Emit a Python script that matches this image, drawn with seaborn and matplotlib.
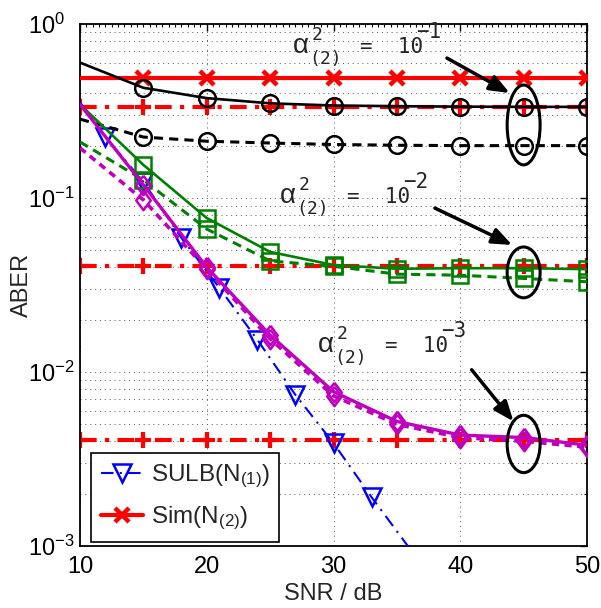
import numpy as np
import pandas as pd
import matplotlib
matplotlib.use("Agg")
import matplotlib.pyplot as plt
import seaborn as sns
from matplotlib.patches import Ellipse
from matplotlib.lines import Line2D
from matplotlib.ticker import LogLocator, MultipleLocator

# ---------------- data ----------------
snr = [10, 15, 20, 25, 30, 35, 40, 45, 50]
sim_n2 = [0.488, 0.488, 0.488, 0.488, 0.488, 0.488, 0.488, 0.488, 0.488]
lim_a1 = [0.333, 0.333, 0.333, 0.333, 0.333, 0.333, 0.333, 0.333, 0.333]
lim_a2 = [0.0405, 0.0405, 0.0405, 0.0405, 0.0405, 0.0405, 0.0405, 0.0405, 0.0405]
lim_a3 = [0.00405, 0.00405, 0.00405, 0.00405, 0.00405, 0.00405, 0.00405, 0.00405, 0.00405]
black_solid = [0.60, 0.43, 0.375, 0.35, 0.34, 0.337, 0.335, 0.334, 0.334]
black_dashed = [0.284, 0.224, 0.212, 0.207, 0.203, 0.201, 0.200, 0.200, 0.200]
green_solid = [0.345, 0.155, 0.0767, 0.049, 0.0412, 0.0392, 0.0395, 0.0395, 0.039]
green_dashed = [0.21, 0.127, 0.0663, 0.0435, 0.0405, 0.0365, 0.036, 0.0345, 0.033]
purple_solid = [0.345, 0.119, 0.040, 0.0163, 0.0077, 0.0052, 0.00434, 0.0042, 0.0038]
purple_dashed = [0.194, 0.0975, 0.039, 0.0155, 0.0073, 0.005, 0.0042, 0.0040, 0.0037]
snr_sulb = [10, 12, 15, 18, 21, 24, 27, 30, 33, 36]
sulb_n1 = [0.355, 0.224, 0.124, 0.059, 0.0304, 0.0153, 0.00738, 0.0039, 0.00191, 0.00097]

legend_labels = [r"SULB(N$_{(1)}$)", r"Sim(N$_{(2)}$)"]
alpha_exponents = ["\u22121", "\u22122", "\u22123"]
ellipse_x = [45, 45, 45]
ellipse_lo = [0.155, 0.0267, 0.00264]
ellipse_hi = [0.446, 0.0523, 0.00564]

# ---------------- style ----------------
sns.set_theme(style="white")
plt.rcParams["font.family"] = ["Liberation Sans", "DejaVu Sans"]
plt.rcParams["mathtext.fontset"] = "custom"
plt.rcParams["mathtext.rm"] = "Liberation Sans"
plt.rcParams["mathtext.it"] = "Liberation Sans:italic"

fig = plt.figure(figsize=(6.01, 6.08), dpi=100)
ax = fig.add_axes([80 / 601, 1 - 546 / 608, 507 / 601, 522 / 608])

diamond = [(0, 1), (0.75, 0), (0, -1), (-0.75, 0), (0, 1)]


def draw(x, y, color, ls, lw, marker=None, ms=10, mew=1.8, me=None, z=2):
    sns.lineplot(x=x, y=y, ax=ax, color=color, linestyle=ls, linewidth=lw,
                 marker=marker, markersize=ms, markeredgewidth=mew,
                 markerfacecolor="none", markeredgecolor=color, markevery=me,
                 legend=False, zorder=z, estimator=None, sort=False)


red = "#ff0000"
green = "#008000"
purple = "#bf00bf"
blue = "#0000ff"
dashdot_blue = (0, (6, 3, 1, 3))

draw(snr_sulb, sulb_n1, blue, dashdot_blue, 1.5, marker="v", ms=13, mew=1.8,
     me=slice(1, 9), z=3)
draw(snr, sim_n2, red, "-", 3.0, marker="x", ms=10, mew=3.2, me=slice(1, None), z=3)
for lim in (lim_a1, lim_a2, lim_a3):
    draw(snr, lim, red, (0, (4, 2, 1, 2)), 3.0, marker="+", ms=12, mew=3.0, z=2)
draw(snr, black_solid, "black", "-", 1.9, marker="o", ms=12, me=slice(1, None), z=4)
draw(snr, black_dashed, "black", (0, (3, 2)), 2.2, marker="o", ms=12, me=slice(1, None), z=4)
draw(snr, green_solid, green, "-", 1.9, marker="s", ms=11, me=slice(1, None), z=4)
draw(snr, green_dashed, green, (0, (3, 2)), 2.2, marker="s", ms=11, me=slice(1, None), z=4)
draw(snr, purple_dashed, purple, (0, (2, 1.5)), 2.6, marker=diamond, ms=14, me=slice(1, None), z=4)
draw(snr, purple_solid, purple, "-", 2.4, marker=diamond, ms=14, me=slice(1, None), z=5)

ax.set_yscale("log")
ax.set_xlim(10, 50)
ax.set_ylim(1e-3, 1)

# ticks
PX = 72 / 100  # points per pixel
ax.xaxis.set_major_locator(MultipleLocator(10))
ax.xaxis.set_minor_locator(MultipleLocator(0.5))
ax.yaxis.set_major_locator(LogLocator(base=10, numticks=10))
ax.yaxis.set_minor_locator(LogLocator(base=10, subs=np.arange(2, 10), numticks=20))
ax.tick_params(which="both", direction="in", top=True, right=True, colors="black",
               labelsize=17)
ax.tick_params(axis="y", which="major", pad=52 * PX)
ax.tick_params(axis="x", which="major", pad=7)
ax.tick_params(which="major", length=5, width=1)
ax.tick_params(which="minor", length=2.5, width=0.8)
ax.tick_params(axis="x", which="minor", length=2)
for lab in ax.get_yticklabels():
    lab.set_horizontalalignment("left")
for s in ax.spines.values():
    s.set_color("black")
    s.set_linewidth(1.3)

grid_ls = (0, (1, 4))
ax.grid(True, which="major", axis="both", color="#555555", linestyle=grid_ls, linewidth=0.7)
ax.grid(True, which="minor", axis="y", color="#555555", linestyle=grid_ls, linewidth=0.7)
ax.set_axisbelow(True)

ax.set_xlabel("SNR / dB", fontsize=17)
ax.set_ylabel("ABER", fontsize=17)
ax.yaxis.set_label_coords(-(80 - 33) / 507, 0.5)
ax.xaxis.set_label_coords(0.5, -(583 - 546) / 522)

# annotations: alpha^2_(2) = 10^k built from pieces (offsets in pixels)
anchors = [(26.8, 0.681), (25.78, 0.0935), (28.78, 0.01305)]
pieces = [  # text, dx px, dy px, size, family
    ("\u03b1", 0, 0, 20, "Liberation Sans"),
    ("2", 19, 13, 13, "DejaVu Sans Mono"),
    ("(2)", 16, -11, 13, "DejaVu Sans Mono"),
    ("=  10", 67, 0, 15, "DejaVu Sans Mono"),
]
for (tx, ty), expo in zip(anchors, alpha_exponents):
    for txt, dx, dy, fs, fam in pieces + [(expo, 123, 15, 15, "DejaVu Sans Mono")]:
        ax.annotate(txt, xy=(tx, ty), xycoords="data", xytext=(dx * PX, dy * PX),
                    textcoords="offset points", fontsize=fs, family=fam,
                    ha="left", va="baseline", zorder=6)

arrows = [((38.95, 0.637), (43.9, 0.401)),
          ((38.0, 0.0875), (44.1, 0.0537)),
          ((40.9, 0.0103), (44.2, 0.0052))]
for a0, a1 in arrows:
    ax.annotate("", xy=a1, xytext=a0,
                arrowprops=dict(arrowstyle="-|>,head_length=1.0,head_width=0.4",
                                color="black", lw=2.5, shrinkA=0, shrinkB=0),
                zorder=6)

for ex, lo, hi in zip(ellipse_x, ellipse_lo, ellipse_hi):
    cx = (ex - 10) / 40
    ylo = (np.log10(lo) + 3) / 3
    yhi = (np.log10(hi) + 3) / 3
    e = Ellipse((cx, (ylo + yhi) / 2), width=2.6 / 40, height=yhi - ylo,
                transform=ax.transAxes, fill=False, edgecolor="black", lw=2.2, zorder=6)
    ax.add_patch(e)

# legend
h1 = Line2D([], [], color=blue, linestyle=dashdot_blue, lw=1.5, marker="v",
            markersize=13, markeredgewidth=1.8, markerfacecolor="none", markeredgecolor=blue)
h2 = Line2D([], [], color=red, linestyle="-", lw=3.0, marker="x", markersize=10,
            markeredgewidth=3.2, markeredgecolor=red)
leg = ax.legend([h1, h2], legend_labels, loc="lower left",
                bbox_to_anchor=(11 / 507, 4 / 522), fontsize=17.5, frameon=True,
                fancybox=False, framealpha=1, edgecolor="black", handlelength=1.75,
                borderpad=0.4, labelspacing=0.6, handletextpad=0.3, borderaxespad=0)
leg.get_frame().set_linewidth(1.2)
leg.set_zorder(10)

fig.savefig("out.png", dpi=100)
